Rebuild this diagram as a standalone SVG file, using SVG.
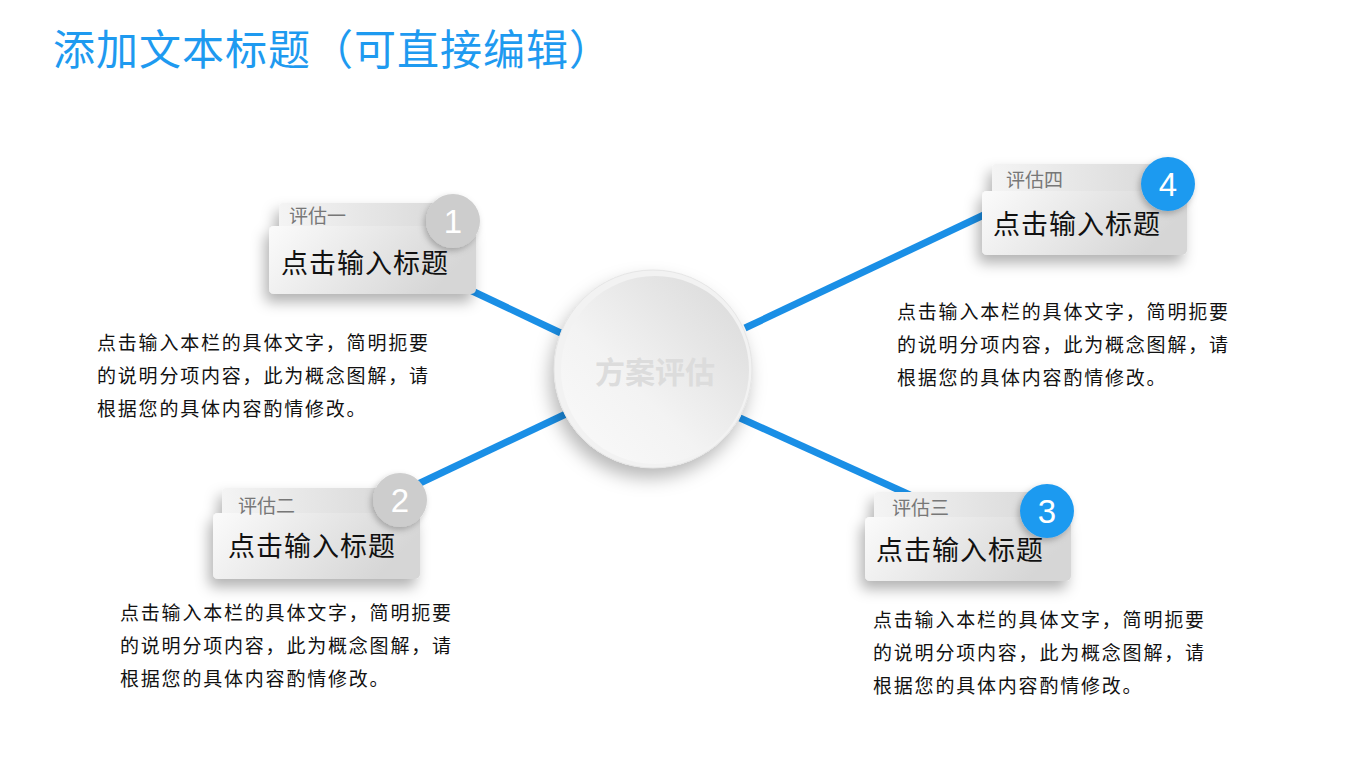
<svg xmlns="http://www.w3.org/2000/svg" width="1350" height="759" viewBox="0 0 1350 759">
<defs>
<linearGradient id="cardg" x1="0" y1="0" x2="1" y2="0.3">
<stop offset="0" stop-color="#fbfbfb"/><stop offset="1" stop-color="#d6d6d6"/>
</linearGradient>
<linearGradient id="tabg" x1="0" y1="0" x2="1" y2="0">
<stop offset="0" stop-color="#f4f4f4"/><stop offset="1" stop-color="#d9d9d9"/>
</linearGradient>
<linearGradient id="ballg" x1="1" y1="0" x2="0" y2="1">
<stop offset="0" stop-color="#d8d8d8"/><stop offset="0.6" stop-color="#f3f3f3"/><stop offset="1" stop-color="#fafafa"/>
</linearGradient>
<filter id="sh" x="-30%" y="-30%" width="160%" height="180%">
<feDropShadow dx="-4" dy="8" stdDeviation="7" flood-color="#000" flood-opacity="0.3"/>
</filter>
<filter id="sh2" x="-30%" y="-30%" width="160%" height="160%">
<feDropShadow dx="-4" dy="10" stdDeviation="9" flood-color="#000" flood-opacity="0.28"/>
</filter>
<filter id="sh3" x="-40%" y="-40%" width="180%" height="180%">
<feDropShadow dx="-2" dy="3" stdDeviation="3" flood-color="#000" flood-opacity="0.25"/>
</filter>
</defs>
<style>
.t{font-family:"Liberation Sans","Noto Sans CJK SC",sans-serif}
.title{font-size:42px;fill:#1e9af0;letter-spacing:1px}
.body{font-size:19px;fill:#111;letter-spacing:1.8px}
.head{font-size:27px;fill:#111;letter-spacing:1px}
.tab{font-size:19px;fill:#777}
.num{font-size:33px;fill:#fff;text-anchor:middle}
.line{stroke:#1a8fe6;stroke-width:7;stroke-linecap:butt}
.gray{fill:#cdcdcd}
.blue{fill:#1e9af0}
</style>
<rect width="1350" height="759" fill="#fff"/>
<text class="t title" x="53" y="65">添加文本标题（可直接编辑）</text>
<g id="connectors">
<line class="line" x1="470" y1="290" x2="565" y2="335"/>
<line class="line" x1="418" y1="484" x2="568" y2="413"/>
<line class="line" x1="740" y1="418" x2="910" y2="495"/>
<line class="line" x1="745" y1="328" x2="988" y2="213"/>
</g>
<g id="center">
<circle cx="653" cy="369" r="99" fill="#eaeaea" filter="url(#sh2)"/>
<circle cx="653" cy="369" r="99" fill="#f2f2f2" stroke="#e6e6e6" stroke-width="1"/>
<circle cx="655" cy="370" r="94" fill="url(#ballg)"/>
<text class="t" x="655" y="383" font-size="30" font-weight="bold" fill="#dcdcdc" text-anchor="middle">方案评估</text>
</g>
<g id="node1">
<g filter="url(#sh)">
<rect x="279" y="203" width="170" height="40" rx="4" fill="url(#tabg)"/>
<rect x="269" y="226" width="207" height="68" rx="5" fill="url(#cardg)"/>
</g>
<text class="t tab" x="289" y="223">评估一</text>
<text class="t head" x="281" y="273">点击输入标题</text>
<circle class="gray" cx="453" cy="221" r="27" filter="url(#sh3)"/>
<text class="t num" x="453" y="233">1</text>
<text class="t body" x="97" y="350">点击输入本栏的具体文字，简明扼要</text>
<text class="t body" x="97" y="383">的说明分项内容，此为概念图解，请</text>
<text class="t body" x="97" y="416">根据您的具体内容酌情修改。</text>
</g>
<g id="node2">
<g filter="url(#sh)">
<rect x="222" y="488" width="170" height="40" rx="4" fill="url(#tabg)"/>
<rect x="213" y="513" width="207" height="66" rx="5" fill="url(#cardg)"/>
</g>
<text class="t tab" x="238" y="513">评估二</text>
<text class="t head" x="228" y="556">点击输入标题</text>
<circle class="gray" cx="400" cy="500" r="27" filter="url(#sh3)"/>
<text class="t num" x="400" y="512">2</text>
<text class="t body" x="120" y="620">点击输入本栏的具体文字，简明扼要</text>
<text class="t body" x="120" y="653">的说明分项内容，此为概念图解，请</text>
<text class="t body" x="120" y="686">根据您的具体内容酌情修改。</text>
</g>
<g id="node3">
<g filter="url(#sh)">
<rect x="874" y="492" width="170" height="40" rx="4" fill="url(#tabg)"/>
<rect x="865" y="517" width="206" height="64" rx="5" fill="url(#cardg)"/>
</g>
<text class="t tab" x="892" y="515">评估三</text>
<text class="t head" x="876" y="560">点击输入标题</text>
<circle class="blue" cx="1047" cy="511" r="27" filter="url(#sh3)"/>
<text class="t num" x="1047" y="523">3</text>
<text class="t body" x="873" y="627">点击输入本栏的具体文字，简明扼要</text>
<text class="t body" x="873" y="660">的说明分项内容，此为概念图解，请</text>
<text class="t body" x="873" y="693">根据您的具体内容酌情修改。</text>
</g>
<g id="node4">
<g filter="url(#sh)">
<rect x="992" y="164" width="170" height="40" rx="4" fill="url(#tabg)"/>
<rect x="982" y="191" width="205" height="64" rx="5" fill="url(#cardg)"/>
</g>
<text class="t tab" x="1006" y="187">评估四</text>
<text class="t head" x="993" y="234">点击输入标题</text>
<circle class="blue" cx="1168" cy="184" r="27" filter="url(#sh3)"/>
<text class="t num" x="1168" y="196">4</text>
<text class="t body" x="897" y="319">点击输入本栏的具体文字，简明扼要</text>
<text class="t body" x="897" y="352">的说明分项内容，此为概念图解，请</text>
<text class="t body" x="897" y="385">根据您的具体内容酌情修改。</text>
</g>
</svg>
